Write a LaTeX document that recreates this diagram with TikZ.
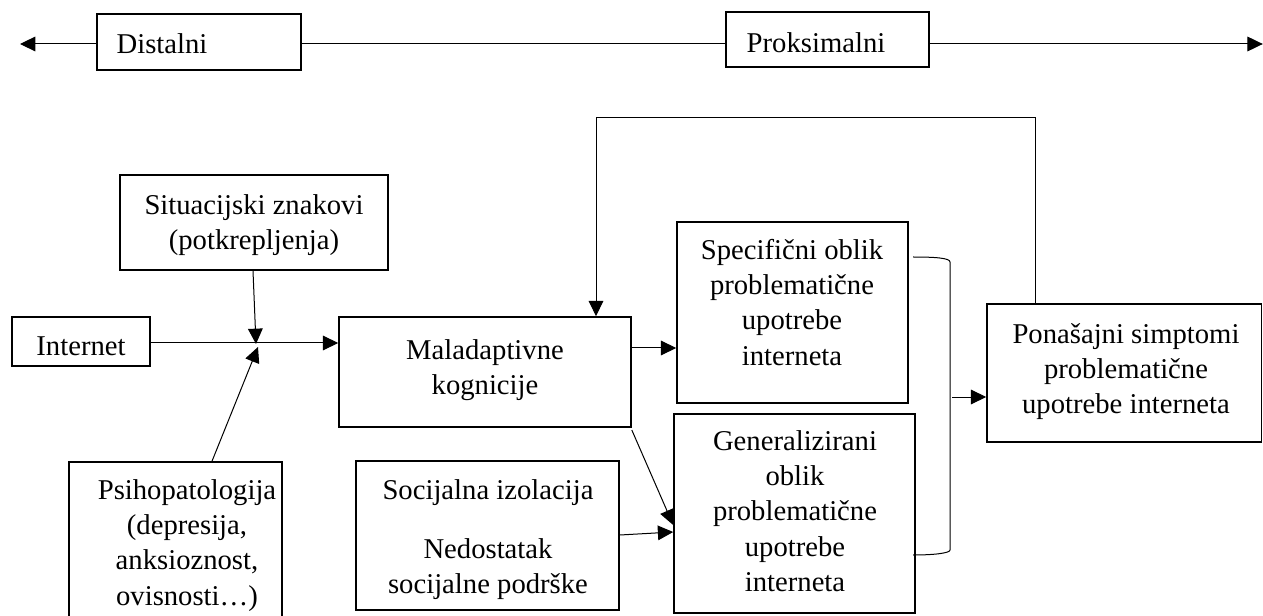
\documentclass[tikz,border=0pt]{standalone}
\usepackage{fontspec}
\setmainfont{Liberation Serif}
\usetikzlibrary{arrows.meta,fit}
\begin{document}
\begin{tikzpicture}[x=0.75pt,y=-0.75pt,
  box/.style={draw,line width=1.2pt,inner sep=0pt},
  txt/.style={font=\fontsize{21.5}{26.5}\selectfont,align=center,anchor=north,inner sep=0pt},
  conn/.style={line width=0.75pt},
  arr/.style={conn,-{Triangle[length=11.5pt,width=11pt]}}]
\clip (0,0) rectangle (1263,616);
% boxes
\node[box,fit={(97,14)(301,70)}] (dist) {};
\node[box,fit={(726,12)(929,67)}] (prok) {};
\node[box,fit={(120,175)(388,270)}] (sit) {};
\node[box,fit={(12,317)(150,366)}] (inet) {};
\node[box,fit={(69,462)(282,640)}] (psi) {};
\node[box,fit={(339,317)(631,427)}] (mal) {};
\node[box,fit={(677,222)(908,403)}] (spec) {};
\node[box,fit={(674,414)(915,613)}] (gen) {};
\node[box,fit={(356,461)(619,610)}] (soc) {};
\node[box,fit={(987,304)(1261.5,442)}] (pon) {};
% texts
\node[txt] (distT) at (162,28.3) {\strut Distalni};
\node[txt] (prokT) at (816,27.3) {\strut Proksimalni};
\node[txt] (sitT) at (254,189.3) {\strut Situacijski znakovi\\(potkrepljenja)};
\node[txt] (inetT) at (81,330.3) {\strut Internet};
\node[txt] (psiT) at (187,474.3) {\strut Psihopatologija\\(depresija,\\anksioznost,\\ovisnosti…)};
\node[txt] (malT) at (485,334.3) {\strut Maladaptivne\\kognicije};
\node[txt] (specT) at (792,234.3) {\strut Specifični oblik\\problematične\\upotrebe\\interneta};
\node[txt] (genT) at (795,425.3) {\strut Generalizirani\\oblik\\problematične\\upotrebe\\interneta};
\node[txt] (socT) at (488,474.3) {\strut Socijalna izolacija\\[18pt]Nedostatak\\socijalne podrške};
\node[txt] (ponT) at (1126,318.3) {\strut Ponašajni simptomi\\problematične\\upotrebe interneta};
% top axis
\coordinate (lEnd) at (20,44);
\coordinate (rEnd) at (1262.8,44);
\draw[arr] (0,44 -| dist.west) -- (lEnd);
\draw[conn] (0,44 -| dist.east) -- (0,44 -| prok.west);
\draw[arr] (0,44 -| prok.east) -- (rEnd);
% feedback loop
\coordinate (fbR) at (1035,118);
\coordinate (fbL) at (596,118);
\draw[arr] (fbR |- pon.north) -- (fbR) -- (fbL) -- (fbL |- mal.north);
% junction
\coordinate (J) at (256,344);
\coordinate (J2) at (258,347);
\draw[arr] (253,0 |- sit.south) -- (J);
\draw[arr] (212,0 |- psi.north) -- (J2);
\draw[arr] (0,343 -| inet.east) -- (0,343 -| mal.west);
% to forms
\draw[arr] (0,348 -| mal.east) -- (0,348 -| spec.west);
\draw[arr] (0,430 -| mal.east) -- (0,525 -| gen.west);
\draw[arr] (0,535 -| soc.east) -- (0,532 -| gen.west);
% bracket
\coordinate (brT) at (913,257);
\coordinate (brB) at (913,555);
\coordinate (brM) at (952,397);
\draw[conn] (brT) .. controls (935,257) and (950,258) .. (950,262) -- (950,550) .. controls (950,553) and (935,555) .. (brB);
\draw[arr] (brM) -- (0,397 -| pon.west);
\end{tikzpicture}
\end{document}
